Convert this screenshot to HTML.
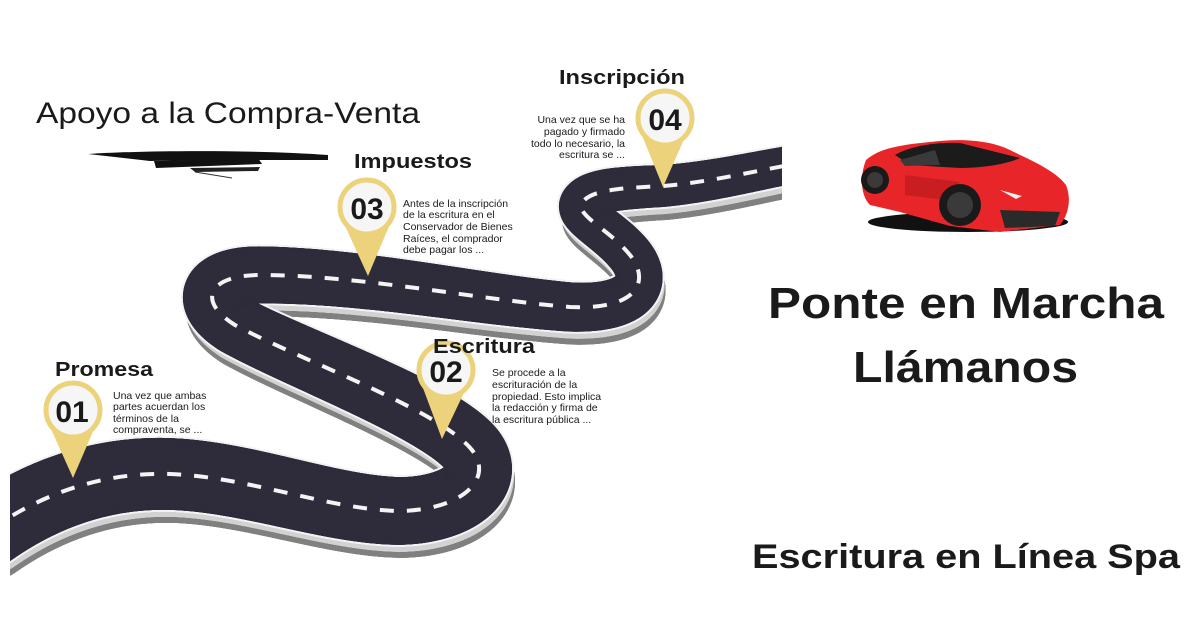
<!DOCTYPE html>
<html><head><meta charset="utf-8"><style>
html,body{margin:0;padding:0;background:#fff;}
svg{display:block;}
text{font-family:"Liberation Sans",sans-serif;fill:#1a1a1a;}
</style></head><body>
<svg id="s" width="1200" height="628" viewBox="0 0 1200 628" xmlns="http://www.w3.org/2000/svg">
<rect width="1200" height="628" fill="#fff"/>
<defs>
<clipPath id="rc"><rect x="10" y="0" width="772" height="628"/></clipPath>
<path id="road" d="M -10,530 C 40,495 100,472 170,474 C 250,477 330,510 400,511 C 460,510 495,480 472,450 C 440,410 300,360 235,325 C 195,300 210,275 260,275 C 360,275 480,300 570,307 C 640,310 650,280 630,255 C 610,230 575,215 582,203 C 590,190 620,188 663,186 C 710,182 750,172 800,163"/>
</defs>
<g clip-path="url(#rc)">
<g id="l1" fill="#808080"></g>
<g id="l2" fill="#d2d2d2"></g>
<g id="l3" fill="#f3f3f3"></g>
<g id="l4" fill="#2e2c3b"></g>
<use href="#road" fill="none" stroke="#f4f4f4" stroke-width="4" stroke-dasharray="14 13"/>
</g>
<script>
(function(){
var p=document.getElementById('road'),L=p.getTotalLength(),ns='http://www.w3.org/2000/svg';
var layers=[['l1',3,13,0],['l2',2,7,0],['l3',0,0,2],['l4',0,0,0]];
for(var s=0;s<=L;s+=1.5){
 var t=s/L,w=74-36*Math.pow(t,1.3),pt=p.getPointAtLength(s);
 for(var i=0;i<4;i++){var c=document.createElementNS(ns,'circle');
  c.setAttribute('cx',pt.x+layers[i][1]);c.setAttribute('cy',pt.y+layers[i][2]);
  c.setAttribute('r',w/2+layers[i][3]);document.getElementById(layers[i][0]).appendChild(c);}
}})();
</script>
<path d="M88,154 C150,150 260,150 328,155 L328,160 C260,160 200,160 150,161 Z" fill="#111"/>
<path d="M154,161 L258,158 L262,164 L156,168 Z" fill="#111"/>
<path d="M190,168 L260,167 L258,171 L195,172 Z" fill="#222"/>
<path d="M195,172 L232,178" stroke="#333" stroke-width="1" fill="none"/>
<text x="36" y="123" font-size="30" textLength="384" lengthAdjust="spacingAndGlyphs">Apoyo a la Compra-Venta</text>

<g>
<path d="M639,128 L663,187 L689,128 Z" fill="#ecd27a"/>
<circle cx="665" cy="118" r="27" fill="#f6f6f6" stroke="#ecd27a" stroke-width="5"/>
<text x="665" y="130" font-size="30" text-anchor="middle" font-weight="bold">04</text>
<path d="M341,217 L368,276 L393,217 Z" fill="#ecd27a"/>
<circle cx="367" cy="207" r="27" fill="#f6f6f6" stroke="#ecd27a" stroke-width="5"/>
<text x="367" y="219" font-size="30" text-anchor="middle" font-weight="bold">03</text>
<path d="M420,380 L442,439 L470,380 Z" fill="#ecd27a"/>
<circle cx="446" cy="370" r="27" fill="#f6f6f6" stroke="#ecd27a" stroke-width="5"/>
<text x="446" y="382" font-size="30" text-anchor="middle" font-weight="bold">02</text>
<path d="M47,420 L73,478 L98,420 Z" fill="#ecd27a"/>
<circle cx="73" cy="410" r="27" fill="#f6f6f6" stroke="#ecd27a" stroke-width="5"/>
<text x="72" y="422" font-size="30" text-anchor="middle" font-weight="bold">01</text>
</g>

<text x="559" y="84" font-size="20" font-weight="bold" textLength="126" lengthAdjust="spacingAndGlyphs">Inscripción</text>
<text x="354" y="168" font-size="20" font-weight="bold" textLength="118" lengthAdjust="spacingAndGlyphs">Impuestos</text>
<text x="433" y="353" font-size="20" font-weight="bold" textLength="102" lengthAdjust="spacingAndGlyphs">Escritura</text>
<text x="55" y="376" font-size="20" font-weight="bold" textLength="98" lengthAdjust="spacingAndGlyphs">Promesa</text>

<g font-size="10.5" fill="#222">
<text x="625" y="123" text-anchor="end">Una vez que se ha</text>
<text x="625" y="135" text-anchor="end">pagado y firmado</text>
<text x="625" y="147" text-anchor="end">todo lo necesario, la</text>
<text x="625" y="158" text-anchor="end">escritura se ...</text>
<text x="403" y="207">Antes de la inscripción</text>
<text x="403" y="218">de la escritura en el</text>
<text x="403" y="230">Conservador de Bienes</text>
<text x="403" y="242">Raíces, el comprador</text>
<text x="403" y="253">debe pagar los ...</text>
<text x="492" y="376">Se procede a la</text>
<text x="492" y="388">escrituración de la</text>
<text x="492" y="400">propiedad. Esto implica</text>
<text x="492" y="411">la redacción y firma de</text>
<text x="492" y="423">la escritura pública ...</text>
<text x="113" y="399">Una vez que ambas</text>
<text x="113" y="410">partes acuerdan los</text>
<text x="113" y="422">términos de la</text>
<text x="113" y="433">compraventa, se ...</text>
</g>

<g>
<ellipse cx="968" cy="222" rx="100" ry="10" fill="#111"/>
<path d="M866,160 C880,148 900,145 930,142 C960,138 990,140 1010,150 C1030,160 1055,170 1066,185 C1072,200 1068,215 1060,225 L1000,232 L950,226 L900,212 L870,205 C860,195 860,175 866,160 Z" fill="#e8262a"/>
<path d="M895,155 C910,146 935,142 960,143 L1020,158 C1005,165 980,168 960,168 L910,165 Z" fill="#1b1b1b"/>
<path d="M900,160 L935,150 L940,165 L905,166 Z" fill="#3a3a3a"/>
<path d="M1000,210 L1060,212 L1055,226 L1005,228 Z" fill="#2a2a2a"/>
<path d="M905,175 L960,182 L945,200 L905,195 Z" fill="#c81e22"/>
<circle cx="960" cy="205" r="21" fill="#1a1a1a"/>
<circle cx="960" cy="205" r="13" fill="#3a3a3a"/>
<circle cx="875" cy="180" r="14" fill="#1a1a1a"/>
<circle cx="875" cy="180" r="8" fill="#3a3a3a"/>
<path d="M1000,190 L1022,196 L1016,199 Z" fill="#eee"/>
</g>

<text x="768" y="318" font-size="44" font-weight="bold" textLength="396" lengthAdjust="spacingAndGlyphs">Ponte en Marcha</text>
<text x="853" y="382" font-size="44" font-weight="bold" textLength="225" lengthAdjust="spacingAndGlyphs">Llámanos</text>
<text x="752" y="568" font-size="34" font-weight="bold" textLength="428" lengthAdjust="spacingAndGlyphs">Escritura en Línea Spa</text>
</svg>
</body></html>
